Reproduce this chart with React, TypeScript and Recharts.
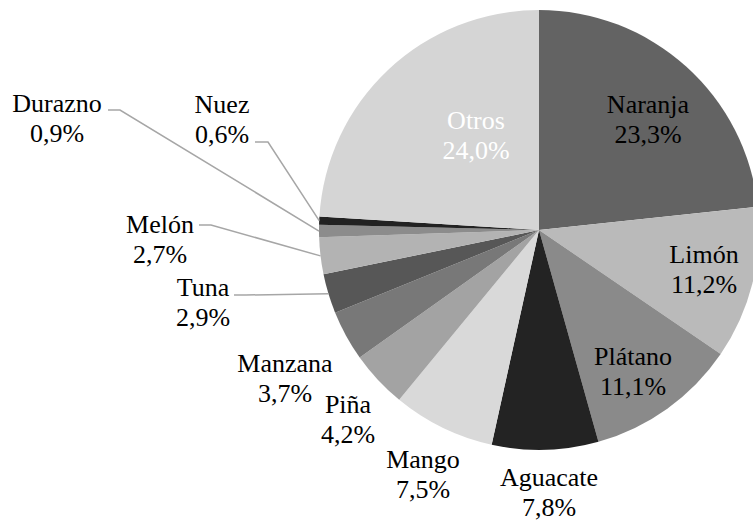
import { PieChart, Pie, Cell } from "recharts";

const fruits = [
  "Naranja",
  "Limón",
  "Plátano",
  "Aguacate",
  "Mango",
  "Piña",
  "Manzana",
  "Tuna",
  "Melón",
  "Durazno",
  "Nuez",
  "Otros",
];
const shares = [23.3, 11.2, 11.1, 7.8, 7.5, 4.2, 3.7, 2.9, 2.7, 0.9, 0.6, 24.0];

const data = fruits.map((name, i) => ({ name, value: shares[i] }));

const colors = [
  "#636363",
  "#bababa",
  "#8a8a8a",
  "#232323",
  "#d9d9d9",
  "#a3a3a3",
  "#787878",
  "#575757",
  "#b3b3b3",
  "#8c8c8c",
  "#222222",
  "#d5d5d5",
];

const SERIF = "'Liberation Serif', 'Times New Roman', serif";

// chart keeps its default 5px margin, so centre is given in plot coords
const CX = 534;
const CY = 225;
const R = 220;

// text centre / first baseline, relative to the pie centre
const labelSpots: [number, number][] = [
  [109, -117],
  [165, 33],
  [94, 135],
  [10, 256],
  [-116, 238],
  [-191, 183],
  [-254, 142],
  [-336, 66],
  [-379, 3],
  [-482, -118],
  [-317, -117],
  [-63, -101],
];

// leader line start + elbow for the labels that sit away from their slice
const leaders: Record<number, [number, number][]> = {
  7: [[-305, 65], [-293, 65]],
  8: [[-340, -5], [-328, -5]],
  9: [[-431, -120], [-419, -120]],
  10: [[-284, -88], [-271, -88]],
};

const pct = (v: number) => v.toFixed(1).replace(".", ",") + "%";

const RAD = Math.PI / 180;

function renderLabel(props: any) {
  const { index, cx, cy, midAngle, outerRadius } = props;
  const [dx, dy] = labelSpots[index];
  const x = cx + dx;
  const y = cy + dy;
  const lead = leaders[index];
  const color = index === 11 ? "#ffffff" : "#000000";
  const ex = cx + outerRadius * Math.cos(-midAngle * RAD);
  const ey = cy + outerRadius * Math.sin(-midAngle * RAD);
  return (
    <g style={{ fontFamily: SERIF }}>
      {lead ? (
        <polyline
          points={lead.map(([px, py]) => `${cx + px},${cy + py}`).join(" ") + ` ${ex},${ey}`}
          fill="none"
          stroke="#a6a6a6"
          strokeWidth={1.5}
        />
      ) : null}
      <text
        x={x}
        y={y}
        textAnchor="middle"
        fill={color}
        fontFamily="Liberation Serif"
        fontSize={26}
        style={{ fontFamily: SERIF, fontSize: 26 }}
      >
        <tspan x={x} y={y}>{fruits[index]}</tspan>
        <tspan x={x} y={y + 30}>{pct(shares[index])}</tspan>
      </text>
    </g>
  );
}

export default function App() {
  return (
    <div
      style={{
        position: "absolute",
        left: 0,
        top: 0,
        width: 753,
        height: 521,
        background: "#fff",
        fontFamily: SERIF,
      }}
    >
      <PieChart width={753} height={521} style={{ fontFamily: SERIF }}>
        <Pie
          data={data}
          dataKey="value"
          cx={CX}
          cy={CY}
          outerRadius={R}
          startAngle={90}
          endAngle={-270}
          stroke="none"
          labelLine={false}
          label={renderLabel}
          isAnimationActive={false}
        >
          {data.map((_, i) => (
            <Cell key={i} fill={colors[i]} />
          ))}
        </Pie>
      </PieChart>
    </div>
  );
}
